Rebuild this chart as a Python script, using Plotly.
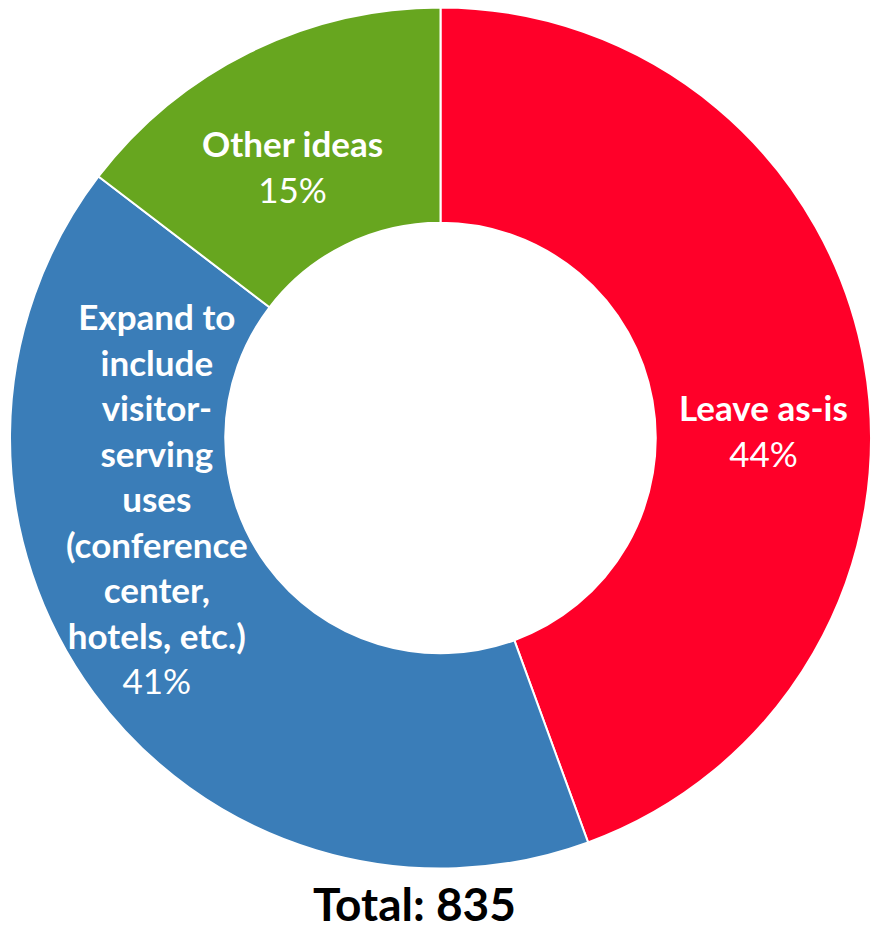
import plotly.graph_objects as go

labels = ["Leave as-is", "Expand to include visitor-serving uses (conference center, hotels, etc.)", "Other ideas"]
label_lines = ["Leave as-is",
               "Expand to<br>include<br>visitor-<br>serving<br>uses<br>(conference<br>center,<br>hotels, etc.)",
               "Other ideas"]
values = [371, 342, 122]
colors = ["#FF0029", "#3A7DB8", "#67A61F"]
total = sum(values)

W, H = 871, 930
fig = go.Figure(go.Pie(
    labels=labels, values=values, hole=0.5, sort=False, direction="clockwise",
    rotation=0, marker=dict(colors=colors, line=dict(color="white", width=2)),
    textinfo="none", hoverinfo="label+percent",
    domain=dict(x=[10/W, 1.0], y=[1-869/H, 1-7/H]),
    showlegend=False,
))

FONT = "Lato"
pos = [(763, 430), (157, 498), (292, 166)]
annotations = []
for lab, v, (px, py) in zip(label_lines, values, pos):
    pct = f"{round(v/total*100)}%"
    annotations.append(dict(
        x=px/W, y=1-py/H, xref="paper", yref="paper", showarrow=False,
        text=f"<b>{lab}</b><br>{pct}", align="center",
        font=dict(family=FONT, size=35, color="white"),
        xanchor="center", yanchor="middle"))
annotations.append(dict(
    x=414/W, y=1-903/H, xref="paper", yref="paper", showarrow=False,
    text=f"<b>Total: {total}</b>", font=dict(family=FONT, size=46, color="black"),
    xanchor="center", yanchor="middle"))

fig.update_layout(width=W, height=H, margin=dict(l=0, r=0, t=0, b=0),
                  paper_bgcolor="white", plot_bgcolor="white",
                  annotations=annotations)
fig.write_html("out.html", config={"displayModeBar": False},
               post_script="document.body.style.margin='0';document.body.style.overflow='hidden';")
